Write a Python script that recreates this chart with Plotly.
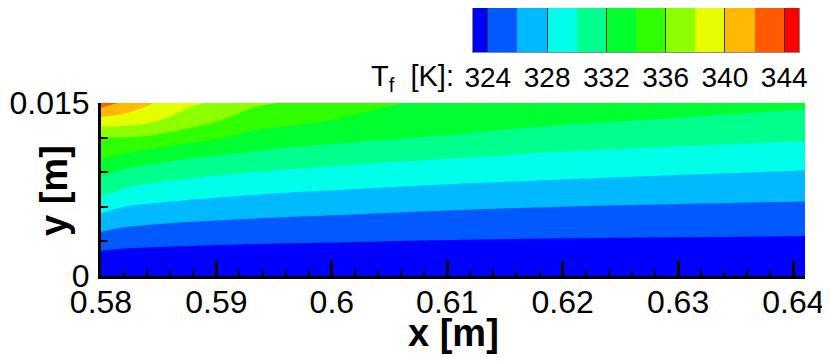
import plotly.graph_objects as go

# ---------------- data ----------------
x_vals = [0.58, 0.582, 0.584, 0.5875, 0.5935, 0.5972, 0.6061, 0.62, 0.641]
y_vals = [0.0, 0.0015, 0.003, 0.0045, 0.006, 0.0075, 0.009, 0.0105, 0.012, 0.0135, 0.015]
# T_f [K]; one row per y value (bottom to top), one column per x value
T_rows = [
    [321.50, 321.50, 321.50, 321.50, 321.60, 321.60, 321.60, 321.62, 321.70],
    [323.20, 323.06, 323.00, 322.93, 322.87, 322.84, 322.78, 322.71, 322.70],
    [325.00, 324.67, 324.53, 324.38, 324.20, 324.12, 323.97, 323.80, 323.70],
    [326.80, 326.29, 326.08, 325.82, 325.53, 325.40, 325.16, 324.90, 324.68],
    [328.78, 327.98, 327.70, 327.36, 326.96, 326.77, 326.40, 325.99, 325.67],
    [330.75, 329.86, 329.44, 328.97, 328.44, 328.21, 327.77, 327.27, 326.74],
    [332.56, 331.57, 331.16, 330.62, 329.95, 329.65, 329.11, 328.52, 327.86],
    [334.44, 333.87, 333.19, 332.39, 331.60, 331.25, 330.54, 329.73, 329.06],
    [336.00, 335.95, 335.75, 334.90, 333.30, 332.85, 332.09, 331.12, 330.24],
    [339.30, 339.00, 338.50, 337.00, 334.90, 334.40, 333.05, 332.34, 331.30],
    [343.00, 341.60, 340.30, 338.50, 336.30, 335.70, 334.00, 333.20, 332.40],
]
levels = [324, 326, 328, 330, 332, 334, 336, 338, 340, 342, 344]
level_step = 2
bar_min, bar_max = 323, 345
band_colors = ["#0000FF", "#005AFF", "#00B9FF", "#00FFE8", "#00FF8C", "#00FF30",
               "#30FF00", "#8CFF00", "#E6FF00", "#FFB900", "#FF5A00", "#FF0000"]
bar_tickvals = [324, 328, 332, 336, 340, 344]
bar_ticktext = ["324", "328", "332", "336", "340", "344"]
x_tickvals = [0.58, 0.59, 0.60, 0.61, 0.62, 0.63, 0.64]
x_ticktext = ["0.58", "0.59", "0.6", "0.61", "0.62", "0.63", "0.64"]
y_tickvals = [0.0, 0.015]
y_ticktext = ["0", "0.015"]

# ---------------- layout helpers ----------------
# the page body adds an 8 px offset; the figure is sized so that the screen matches
OFF = 8
W, H = 822, 353
ml, mr, mt, mb = 93, 25, 0, 85
pw, ph = W - ml - mr, H - mt - mb
def pxx(p):          # screen x pixel -> paper fraction
    return (p - OFF - ml) / pw
def pxy(p):          # screen y pixel -> paper fraction
    return (H - mb - (p - OFF)) / ph

FONT = "Liberation Sans, Arial, sans-serif"

n = len(band_colors)
cscale = []
for k, c in enumerate(band_colors):
    lo = max(0.0, (k - 0.5) / (n - 1))
    hi = min(1.0, (k + 0.5) / (n - 1))
    cscale.append([lo, c])
    cscale.append([hi, c])

fig = go.Figure()
fig.add_trace(go.Contour(
    x=x_vals, y=y_vals, z=T_rows,
    autocontour=False,
    contours=dict(start=levels[0], end=levels[-1], size=level_step,
                  coloring="fill", showlines=False),
    line=dict(width=0, smoothing=1.0),
    colorscale=cscale, showscale=False,
    xaxis="x", yaxis="y", hoverinfo="skip",
))

# colour legend bar drawn as a one-row heatmap on its own axes
bar_edges = [bar_min] + levels + [bar_max]
fig.add_trace(go.Heatmap(
    x=bar_edges, y=[0, 1], z=[list(range(n))],
    colorscale=cscale, zmin=0, zmax=n - 1, showscale=False,
    xaxis="x2", yaxis="y2", hoverinfo="skip",
))

fig.update_layout(
    width=W, height=H,
    margin=dict(l=ml, r=mr, t=mt, b=mb, pad=0, autoexpand=False),
    paper_bgcolor="white", plot_bgcolor="white",
    font=dict(family=FONT, color="black"),
    showlegend=False,
    xaxis=dict(
        domain=[0, 1], anchor="y", automargin=False,
        range=[x_vals[0], x_vals[-1]],
        tickmode="array", tickvals=x_tickvals, ticktext=x_ticktext,
        ticks="inside", ticklen=15, tickwidth=3, tickcolor="black",
        minor=dict(tickmode="linear", tick0=0.58, dtick=0.002, ticks="inside",
                   ticklen=6, tickwidth=1.5, tickcolor="black", showgrid=False),
        showline=True, linewidth=3, linecolor="black", mirror=False,
        showgrid=False, zeroline=False,
        tickfont=dict(size=32, family=FONT),
        ticklabelstandoff=-4,
    ),
    yaxis=dict(
        domain=[0, pxy(103)], anchor="x", automargin=False,
        range=[y_vals[0], y_vals[-1]],
        tickmode="array", tickvals=y_tickvals, ticktext=y_ticktext,
        ticks="inside", ticklen=15, tickwidth=3, tickcolor="black",
        minor=dict(tickmode="linear", tick0=0.0, dtick=0.003, ticks="inside",
                   ticklen=7, tickwidth=1.5, tickcolor="black", showgrid=False),
        showline=True, linewidth=3, linecolor="black", mirror=False,
        showgrid=False, zeroline=False,
        tickfont=dict(size=32, family=FONT),
        ticklabelstandoff=2,
    ),
    xaxis2=dict(
        domain=[pxx(473), pxx(799)], anchor="y2", automargin=False,
        range=[bar_min, bar_max],
        tickmode="array", tickvals=bar_tickvals, ticktext=bar_ticktext,
        ticks="inside", ticklen=44, tickwidth=1, tickcolor="#333333",
        showline=True, linewidth=1, linecolor="#888888", mirror=True,
        showgrid=False, zeroline=False,
        tickfont=dict(size=28, family=FONT),
        ticklabelstandoff=0,
    ),
    yaxis2=dict(
        domain=[pxy(52), pxy(8)], anchor="x2", automargin=False,
        range=[0, 1], showticklabels=False, ticks="",
        showline=True, linewidth=1, linecolor="#888888", mirror=True,
        showgrid=False, zeroline=False,
    ),
    annotations=[
        dict(text="<b>x [m]</b>", x=pxx(453), y=pxy(333), xref="paper", yref="paper",
             xanchor="center", yanchor="middle", showarrow=False,
             font=dict(size=38, family=FONT)),
        dict(text="<b>y [m]</b>", x=pxx(54), y=pxy(191), xref="paper", yref="paper",
             xanchor="center", yanchor="middle", showarrow=False, textangle=-90,
             font=dict(size=38, family=FONT)),
        dict(text="T<sub>f</sub>  [K]:", x=pxx(456), y=pxy(78), xref="paper", yref="paper",
             xanchor="right", yanchor="middle", showarrow=False,
             font=dict(size=29, family=FONT)),
    ],
)

fig.write_html("out.html")
